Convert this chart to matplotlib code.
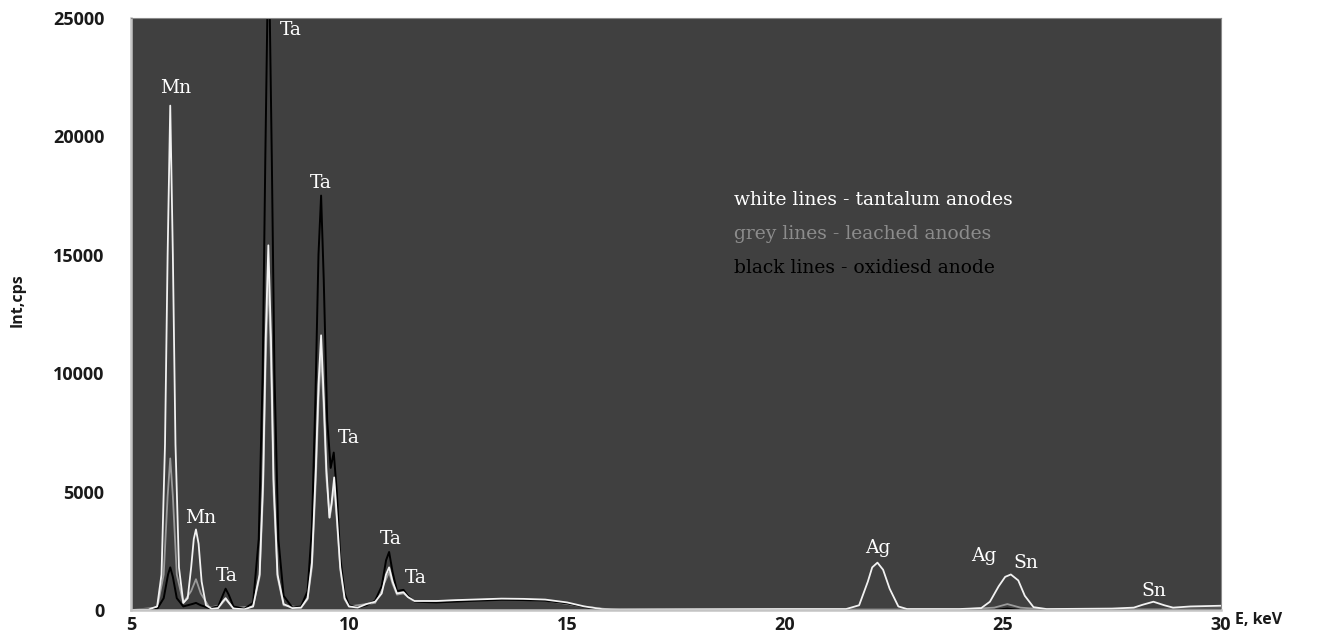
import matplotlib.pyplot as plt

# спектры: энергия (keV) и интенсивность (cps)
e_white = [5.0, 5.4, 5.6, 5.7, 5.78, 5.84, 5.9, 5.96, 6.02, 6.1, 6.2, 6.3, 6.38, 6.44, 6.49,
           6.55, 6.62, 6.72, 6.85, 7.0, 7.1, 7.17, 7.25, 7.35, 7.6, 7.8, 7.95, 8.03, 8.09,
           8.15, 8.21, 8.27, 8.36, 8.5, 8.7, 8.9, 9.05, 9.15, 9.24, 9.3, 9.36, 9.42, 9.48,
           9.55, 9.6, 9.66, 9.72, 9.8, 9.9, 10.0, 10.2, 10.4, 10.6, 10.75, 10.85, 10.92,
           11.0, 11.1, 11.25, 11.35, 11.5, 12.0, 12.5, 13.0, 13.5, 14.0, 14.5, 15.0, 15.4,
           15.8, 16.2, 18.0, 20.0, 21.4, 21.7, 21.9, 22.0, 22.12, 22.25, 22.4, 22.6, 22.8,
           24.0, 24.5, 24.7, 24.9, 25.05, 25.18, 25.35, 25.5, 25.7, 26.0, 27.5, 28.0, 28.2,
           28.45, 28.7, 28.9, 29.3, 30.0]
i_white = [0, 20, 150, 1500, 7000, 15000, 21300, 15000, 7000, 1800, 300, 500, 1800, 3000, 3400,
           2800, 1200, 200, 50, 80, 350, 500, 300, 60, 30, 150, 1500, 5500, 11500,
           15400, 11500, 5500, 1500, 250, 80, 100, 500, 2000, 6000, 9500, 11600, 9000, 6000,
           3900, 4500, 5600, 4000, 1800, 500, 150, 100, 250, 350, 700, 1500, 1800,
           1200, 700, 750, 550, 380, 380, 420, 450, 480, 470, 440, 320, 150,
           40, 20, 30, 40, 40, 200, 1200, 1800, 2000, 1700, 900, 150, 40,
           40, 80, 350, 1000, 1400, 1500, 1250, 600, 120, 40, 60, 100, 220,
           350, 200, 100, 150, 180]

e_grey = [5.0, 5.6, 5.75, 5.84, 5.9, 5.96, 6.05, 6.2, 6.38, 6.49, 6.6, 6.8, 7.05, 7.17, 7.35,
          7.8, 7.95, 8.03, 8.09, 8.15, 8.21, 8.27, 8.36, 8.5, 8.9, 9.05, 9.15, 9.24, 9.3,
          9.36, 9.42, 9.48, 9.56, 9.66, 9.72, 9.8, 9.9, 10.0, 10.6, 10.85, 10.92, 11.0,
          11.1, 11.25, 11.5, 12.5, 13.5, 14.5, 15.4, 16.0, 24.0, 24.8, 25.1, 25.4, 26.0, 30.0]
i_grey = [0, 100, 1500, 4800, 6400, 4800, 1500, 300, 800, 1300, 700, 100, 200, 450, 80,
          150, 1400, 5000, 10500, 14200, 10500, 5000, 1400, 200, 100, 450, 1800, 5500, 8800,
          10800, 8500, 5600, 3900, 5200, 3800, 1700, 450, 150, 300, 1300, 1600, 1100,
          650, 700, 350, 400, 450, 400, 140, 20, 20, 100, 250, 100, 20, 60]

e_black = [5.0, 5.6, 5.75, 5.85, 5.9, 5.96, 6.05, 6.2, 6.4, 6.49, 6.6, 6.8, 7.0, 7.1, 7.17,
           7.24, 7.35, 7.6, 7.8, 7.93, 8.02, 8.08, 8.13, 8.18, 8.23, 8.29, 8.38, 8.5, 8.7,
           8.9, 9.05, 9.15, 9.23, 9.3, 9.36, 9.42, 9.5, 9.58, 9.65, 9.72, 9.8, 9.9, 10.0,
           10.2, 10.4, 10.6, 10.75, 10.85, 10.92, 11.0, 11.1, 11.25, 11.35, 11.5, 12.0,
           12.5, 13.0, 13.5, 14.0, 14.5, 15.0, 15.4, 15.8, 16.2, 20.0, 24.8, 25.1, 25.4, 30.0]
i_black = [0, 50, 500, 1500, 1800, 1400, 500, 150, 250, 300, 200, 80, 150, 600, 900,
           650, 150, 50, 300, 3000, 10000, 19000, 25500, 25500, 19000, 10000, 3000, 600, 100,
           150, 800, 3500, 9000, 15000, 17500, 14000, 8000, 6000, 6650, 5000, 2200, 700, 200,
           100, 200, 400, 1000, 2100, 2450, 1600, 800, 850, 600, 350, 320,
           360, 400, 430, 420, 390, 280, 130, 30, 0, 0, 0, 60, 0, 20]

# подписи пиков: элемент, E, высота подписи
peak_labels = ['Mn', 'Ta', 'Ta', 'Ta', 'Mn', 'Ta', 'Ta', 'Ta', 'Ag', 'Ag', 'Sn', 'Sn']
label_e = [6.03, 8.67, 9.36, 10.0, 6.6, 7.2, 10.96, 11.54, 22.13, 24.56, 25.53, 28.46]
label_i = [22040, 24490, 18020, 7280, 3890, 1440, 3000, 1350, 2620, 2280, 1990, 800]

legend_lines = ['white lines - tantalum anodes', 'grey lines - leached anodes',
                'black lines - oxidiesd anode']
legend_colors = ['#ffffff', '#8c8c8c', '#000000']

fig = plt.figure(figsize=(13.32, 6.41), dpi=100)
ax = fig.add_axes([131 / 1332, 1 - 610 / 641, 1090 / 1332, 592 / 641])
ax.set_facecolor('#404040')

ax.plot(e_grey, i_grey, color='#9a9a9a', lw=1.3)
ax.plot(e_black, i_black, color='#000000', lw=1.4)
ax.plot(e_white, i_white, color='#f2f2f2', lw=1.3)

ax.set_xlim(5, 30)
ax.set_ylim(0, 25000)
ax.set_xticks([5, 10, 15, 20, 25, 30])
ax.set_yticks([0, 5000, 10000, 15000, 20000, 25000])
ax.tick_params(length=0, labelsize=13, colors='#1a1a1a')
ax.tick_params(axis='y', pad=19)
ax.tick_params(axis='x', pad=4)
for lab in ax.get_xticklabels() + ax.get_yticklabels():
    lab.set_fontweight('bold')
    lab.set_family('Open Sans')

for side in ['top', 'right']:
    ax.spines[side].set_color('#8a8a8a')
    ax.spines[side].set_linewidth(0.8)
for side in ['left', 'bottom']:
    ax.spines[side].set_color('#c4c4c4')
    ax.spines[side].set_linewidth(1.8)

for txt, x, y in zip(peak_labels, label_e, label_i):
    ax.text(x, y, txt, color='white', fontsize=13.5, family='DejaVu Serif',
            ha='center', va='center')

for k, (txt, c) in enumerate(zip(legend_lines, legend_colors)):
    ax.text(18.83, 17300 - k * 1420, txt, color=c, fontsize=13.5,
            family='DejaVu Serif', ha='left', va='center')

fig.text(18 / 1332, 1 - 300 / 641, 'Int,cps', rotation=90, fontsize=11.5,
         fontweight='bold', family='Open Sans', color='#1a1a1a', ha='center', va='center')
fig.text(1235 / 1332, 1 - 620 / 641, 'E, keV', fontsize=11.5, fontweight='bold',
         family='Open Sans', color='#1a1a1a', ha='left', va='center')

fig.savefig('out.png', dpi=100, facecolor='white')
